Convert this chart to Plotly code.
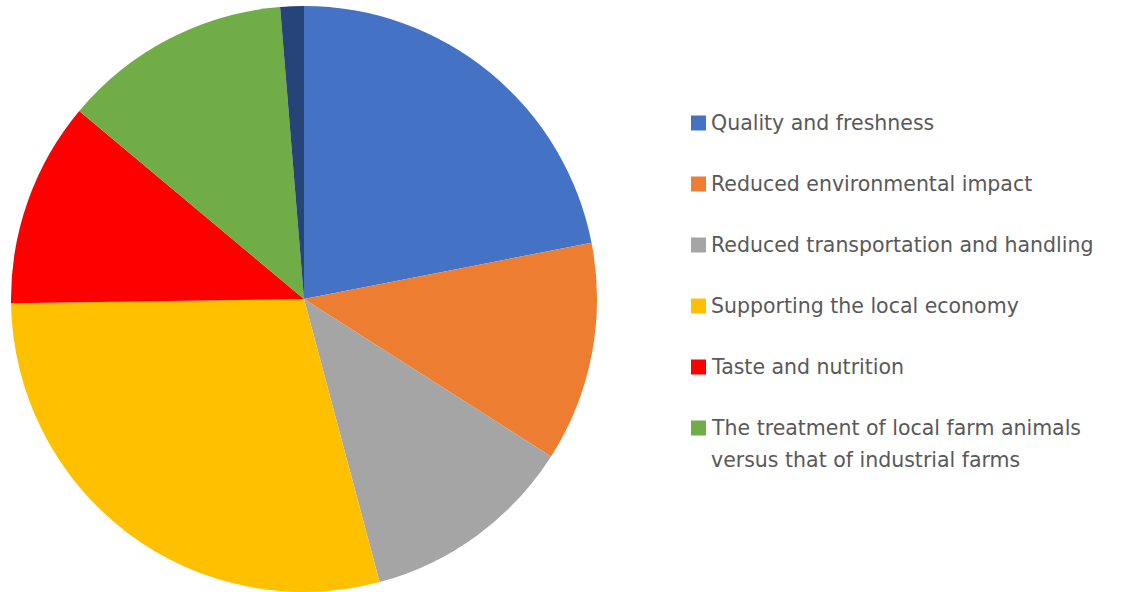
import plotly.graph_objects as go

W, H = 1122, 592

# Share of respondents by main reason for buying local (percent)
labels = [
    "Quality and freshness",
    "Reduced environmental impact",
    "Reduced transportation and handling",
    "Supporting the local economy",
    "Taste and nutrition",
    "The treatment of local farm animals versus that of industrial farms",
    "Other",
]
values = [21.9, 12.1, 11.8, 28.9, 11.3, 12.6, 1.3]
colors = ["#4472C4", "#ED7D31", "#A5A5A5", "#FFC000", "#FF0000", "#70AD47", "#264478"]

# Legend entries shown beside the pie (each entry may wrap onto several lines)
legend_lines = [
    ["Quality and freshness"],
    ["Reduced environmental impact"],
    ["Reduced transportation and handling"],
    ["Supporting the local economy"],
    ["Taste and nutrition"],
    ["The treatment of local farm animals", "versus that of industrial farms"],
]

fig = go.Figure(
    go.Pie(
        labels=labels,
        values=values,
        marker=dict(colors=colors, line=dict(width=0)),
        sort=False,
        direction="clockwise",
        rotation=0,
        textinfo="none",
        hoverinfo="label+percent",
        showlegend=False,
        domain=dict(x=[11 / W, 597 / W], y=[0, 1 - 6 / H]),
    )
)

def px(x):
    return x / W

def py(y):
    return 1 - y / H

row_top = 123      # centre of the first legend row, pixels
row_step = 61      # distance between legend rows
line_step = 32     # distance between wrapped lines
font = dict(family="DejaVu Sans", size=20.5, color="#595959")

for i, lines in enumerate(legend_lines):
    yc = row_top + i * row_step
    fig.add_shape(
        type="rect", xref="paper", yref="paper",
        x0=px(691), x1=px(706), y0=py(yc - 7.5), y1=py(yc + 7.5),
        fillcolor=colors[i], line=dict(width=0),
    )
    for j, txt in enumerate(lines):
        fig.add_annotation(
            xref="paper", yref="paper", x=px(709), y=py(yc + j * line_step),
            text=txt, showarrow=False, xanchor="left", yanchor="middle",
            font=font,
        )

fig.update_layout(
    width=W, height=H,
    margin=dict(l=0, r=0, t=0, b=0),
    paper_bgcolor="white",
    plot_bgcolor="white",
)

fig.write_html("out.html")
